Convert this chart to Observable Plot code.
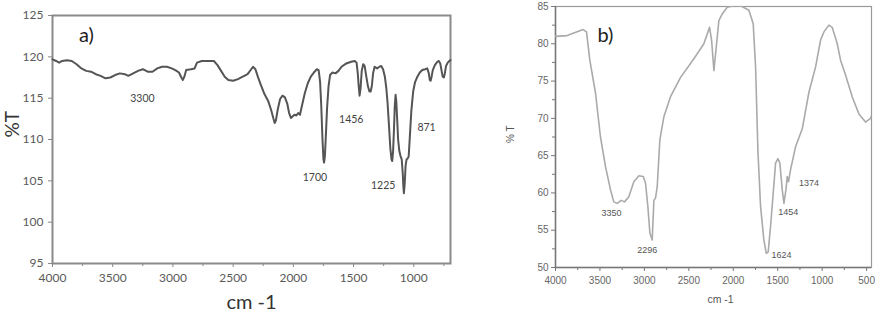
<!DOCTYPE html>
<html><head><meta charset="utf-8">
<script src="https://cdn.jsdelivr.net/npm/d3@7"></script>
<script src="https://cdn.jsdelivr.net/npm/@observablehq/plot@0.6"></script>
<style>
body{margin:0;background:#fff;}
#wrap{position:relative;width:877px;height:318px;overflow:hidden;background:#fff;}
#a{position:absolute;left:0;top:0;}
#b{position:absolute;left:480px;top:0;}
</style></head><body><div id="wrap"><div id="a"></div><div id="b"></div></div>
<script>
// ---------- Panel a data ----------
const aWavenumber = [4000,3970,3945,3920,3880,3840,3800,3760,3720,3680,3640,3600,3560,3520,3480,3440,3400,3370,3330,3290,3250,3210,3170,3130,3090,3050,3010,2980,2950,2930,2918,2905,2890,2850,2820,2800,2760,2700,2660,2630,2600,2570,2540,2500,2460,2420,2380,2350,2335,2315,2295,2270,2240,2210,2185,2165,2155,2145,2130,2110,2090,2070,2050,2035,2020,2005,1990,1975,1960,1945,1930,1905,1880,1855,1830,1805,1790,1778,1768,1758,1750,1745,1738,1730,1720,1708,1695,1675,1650,1625,1600,1560,1520,1490,1475,1465,1457,1450,1442,1432,1420,1408,1395,1380,1368,1358,1348,1338,1325,1305,1285,1270,1255,1240,1228,1218,1205,1195,1185,1179,1172,1165,1158,1151,1145,1138,1130,1120,1110,1100,1092,1086,1082,1076,1068,1060,1050,1042,1032,1020,1005,990,970,950,930,905,888,875,867,860,852,842,825,805,792,780,770,760,750,742,732,718,705,695];
const aTransmittance = [119.7,119.5,119.3,119.5,119.6,119.5,119.1,118.6,118.3,118.2,117.9,117.7,117.4,117.5,117.8,118.0,117.9,117.7,118.0,118.3,118.5,118.2,118.2,118.6,118.8,118.8,118.6,118.4,118.1,117.5,117.2,117.6,118.4,118.5,118.6,119.3,119.5,119.5,119.5,119.0,118.3,117.6,117.2,117.1,117.3,117.6,117.9,118.5,118.8,118.5,117.6,116.6,115.5,114.7,113.6,112.5,112.0,112.3,113.6,114.9,115.3,115.1,114.3,113.2,112.6,112.8,113.0,112.9,113.2,113.0,114.0,115.6,116.8,117.6,118.1,118.5,118.4,117.0,114.0,110.0,107.6,107.2,108.0,110.5,113.8,116.4,117.8,118.1,118.0,118.3,118.8,119.2,119.4,119.5,119.3,118.0,116.4,115.3,116.2,118.3,119.1,118.9,117.7,116.4,115.8,115.8,116.5,118.0,118.8,118.6,118.8,118.9,118.5,117.6,116.2,114.5,111.5,109.0,107.6,107.4,108.5,111.0,114.0,115.4,114.6,112.5,110.0,108.6,108.0,107.6,106.0,104.2,103.5,104.5,106.8,107.6,107.7,108.0,110.5,113.5,115.8,116.9,117.6,118.1,118.4,118.5,118.6,118.0,117.2,117.1,117.6,118.4,119.0,119.4,119.5,119.2,118.4,117.6,117.5,118.0,118.9,119.3,119.5,119.6];
const aPeakText = ["3300","1456","1700","1225","871"];
const aPeakX = [3253,1519,1821,1254,894];
const aPeakY = [114.9,112.4,105.4,104.4,111.4];
const aPanelText = ["a)"];
const aPanelX = [3718];
const aPanelY = [122.6];
const aXTicks = [4000,3500,3000,2500,2000,1500,1000];
const aXMinor = [3750,3250,2750,2250,1750,1250,750];
const aYTicks = [95,100,105,110,115,120,125];
const aXLabel = ["cm -1"];
const aYLabel = ["%T"];

// ---------- Panel b data ----------
const bWavenumber = [4000,3869,3756,3689,3651,3614,3550,3494,3437,3381,3344,3306,3261,3224,3175,3119,3062,3013,2987,2961,2938,2923,2912,2893,2875,2856,2826,2781,2706,2593,2443,2331,2267,2244,2218,2188,2162,2124,2068,1993,1918,1824,1776,1749,1723,1693,1656,1629,1607,1581,1551,1524,1498,1476,1449,1430,1408,1393,1378,1356,1299,1224,1149,1074,1018,980,924,887,830,793,737,662,587,512,455,445];
const bTransmittance = [81.0,81.1,81.6,81.9,81.6,77.8,73.4,67.5,63.5,60.4,58.8,58.6,59.0,58.8,59.5,61.5,62.3,62.2,61.3,58.2,54.6,54.1,53.7,59.0,59.3,60.8,67.1,70.2,72.9,75.5,78.0,80.0,82.2,80.5,76.4,80.0,83.1,84.0,84.9,85.1,85.1,84.5,82.7,76.9,65.7,58.2,53.7,51.9,52.1,55.5,59.9,64.0,64.6,64.0,60.4,58.6,60.4,62.2,61.5,63.1,66.2,68.6,73.5,76.9,80.5,81.6,82.5,82.2,80.0,77.8,75.8,72.9,70.6,69.5,70.0,70.3];
const bPeakText = ["3350","2296","1624","1454","1374"];
const bPeakX = [3370,2968,1457,1382,1149];
const bPeakY = [57.3,52.3,51.6,57.4,61.3];
const bPanelText = ["b)"];
const bPanelX = [3438];
const bPanelY = [81.1];
const bXTicks = [4000,3500,3000,2500,2000,1500,1000,500];
const bXMinor = [3750,3250,2750,2250,1750,1250,750];
const bYTicks = [50,55,60,65,70,75,80,85];
const bYMinor = [52.5,57.5,62.5,67.5,72.5,77.5,82.5];
const bXLabel = ["cm -1"];
const bYLabel = ["% T"];

const aIdx = d3.range(aWavenumber.length);
const bIdx = d3.range(bWavenumber.length);
const plain = d => String(d);

const plotA = Plot.plot({
  width: 470, height: 318,
  marginLeft: 52, marginRight: 20, marginTop: 15, marginBottom: 55,
  style: {fontFamily: "Lato, 'Open Sans', sans-serif", fontSize: "12px", color: "#555", background: "white", overflow: "visible"},
  x: {domain: [4000, 695]},
  y: {domain: [95, 125]},
  marks: [
    Plot.frame({stroke: "#8a8a8a", strokeWidth: 2}),
    Plot.axisX(aXTicks, {tickSize: 4, tickPadding: 6, label: null, stroke: "#888", fill: "#5a5a5a", tickFormat: plain}),
    Plot.axisX(aXMinor, {tickSize: 3, fill: "none", stroke: "#888", label: null}),
    Plot.axisY(aYTicks, {tickSize: 4, tickPadding: 5, label: null, stroke: "#888", fill: "#5a5a5a", tickFormat: plain}),
    Plot.line(aIdx, {x: i => aWavenumber[i], y: i => aTransmittance[i], stroke: "#555", strokeWidth: 2, curve: "linear"}),
    Plot.text(aPeakText, {x: (d, i) => aPeakX[i], y: (d, i) => aPeakY[i], text: d => d, fontSize: 10.5, fill: "#444"}),
    Plot.text(aPanelText, {x: (d, i) => aPanelX[i], y: (d, i) => aPanelY[i], text: d => d, fontSize: 20, fill: "#222"}),
    Plot.text(aXLabel, {frameAnchor: "bottom", dy: 45, text: d => d, fontSize: 20, fill: "#333"}),
    Plot.text(aYLabel, {frameAnchor: "left", dx: -40, dy: -2, rotate: -90, text: d => d, fontSize: 19, fill: "#333"})
  ]
});
document.getElementById("a").appendChild(plotA);

const plotB = Plot.plot({
  width: 397, height: 318,
  marginLeft: 75, marginRight: 6, marginTop: 6, marginBottom: 51,
  style: {fontFamily: "'Liberation Sans', Arial, sans-serif", fontSize: "10px", color: "#666", background: "white", overflow: "visible"},
  x: {domain: [4000, 445]},
  y: {domain: [50, 85]},
  marks: [
    Plot.frame({stroke: "#9a9a9a", strokeWidth: 1.2}),
    Plot.axisX(bXTicks, {tickSize: 4, tickPadding: 5, label: null, stroke: "#777", fill: "#666", tickFormat: plain}),
    Plot.axisX(bXMinor, {tickSize: 3, fill: "none", stroke: "#777", label: null}),
    Plot.axisY(bYTicks, {tickSize: 4, tickPadding: 3, label: null, stroke: "#777", fill: "#666", tickFormat: plain}),
    Plot.axisY(bYMinor, {tickSize: 3, fill: "none", stroke: "#777", label: null}),
    Plot.ruleY([50], {stroke: "#777", strokeWidth: 1.5}),
    Plot.ruleX([4000], {stroke: "#777", strokeWidth: 1.5}),
    Plot.line(bIdx, {x: i => bWavenumber[i], y: i => bTransmittance[i], stroke: "#aaa", strokeWidth: 1.6, clip: true}),
    Plot.text(bPeakText, {x: (d, i) => bPeakX[i], y: (d, i) => bPeakY[i], text: d => d, fontSize: 9, fill: "#555"}),
    Plot.text(bPanelText, {x: (d, i) => bPanelX[i], y: (d, i) => bPanelY[i], text: d => d, fontSize: 20, fill: "#222", fontFamily: "Lato, sans-serif"}),
    Plot.text(bXLabel, {frameAnchor: "bottom", dx: 7, dy: 35, text: d => d, fontSize: 10.5, fill: "#555"}),
    Plot.text(bYLabel, {frameAnchor: "left", dx: -45, dy: 6, rotate: -90, text: d => d, fontSize: 10, fill: "#555"})
  ]
});
document.getElementById("b").appendChild(plotB);
</script>
</body></html>
